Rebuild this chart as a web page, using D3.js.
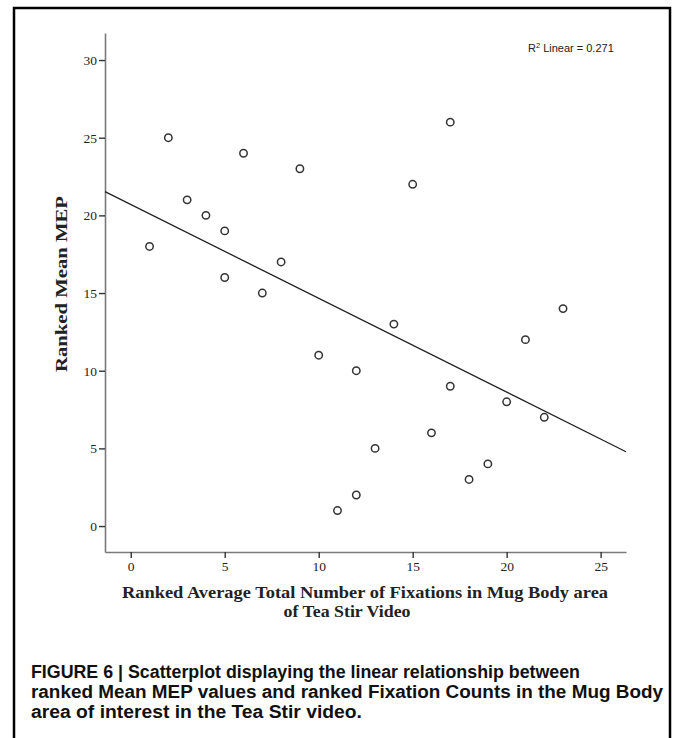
<!DOCTYPE html>
<html>
<head>
<meta charset="utf-8">
<script src="https://cdn.jsdelivr.net/npm/d3@7"></script>
<style>
  body { margin: 0; background: #fff; }
  svg { display: block; }
</style>
</head>
<body>
<svg id="chart" width="673" height="738"></svg>
<script>
// ranked fixation count (x) and ranked mean MEP (y)
const rankFix = [1, 2, 3, 4, 5, 5, 6, 7, 8, 9, 10, 11, 12, 12, 13, 14, 15, 16, 17, 17, 18, 19, 20, 21, 22, 23];
const rankMEP = [18, 25, 21, 20, 19, 16, 24, 15, 17, 23, 11, 1, 10, 2, 5, 13, 22, 6, 26, 9, 3, 4, 8, 12, 7, 14];
const xTicks = [0, 5, 10, 15, 20, 25];
const yTicks = [0, 5, 10, 15, 20, 25, 30];
const captionLines = [
  "FIGURE 6 | Scatterplot displaying the linear relationship between",
  "ranked Mean MEP values and ranked Fixation Counts in the Mug Body",
  "area of interest in the Tea Stir video."
];

const data = rankFix.map((x, i) => ({ x: x, y: rankMEP[i] }));

const svg = d3.select("#chart");

// outer frame (no bottom edge visible)
svg.append("path")
  .attr("d", "M14,738 V8 H670 V738")
  .attr("fill", "none")
  .attr("stroke", "#000")
  .attr("stroke-width", 2.5);

const xScale = d3.scaleLinear().domain([-1.37, 26.35]).range([105, 626]);
const yScale = d3.scaleLinear().domain([-1.67, 31.74]).range([552, 33]);

// axes
const xAxis = svg.append("g")
  .attr("transform", "translate(0,552)")
  .call(d3.axisBottom(xScale).tickValues(xTicks).tickSize(6).tickPadding(3).tickSizeOuter(0));
const yAxis = svg.append("g")
  .attr("transform", "translate(105,0)")
  .call(d3.axisLeft(yScale).tickValues(yTicks).tickSize(6).tickPadding(2).tickSizeOuter(0));

[xAxis, yAxis].forEach(ax => {
  ax.select(".domain").attr("stroke", "#7a7a7a").attr("stroke-width", 1.6);
  ax.selectAll(".tick line").attr("stroke", "#333").attr("stroke-width", 1.4);
  ax.selectAll(".tick text")
    .attr("font-family", "Liberation Serif, serif")
    .attr("font-size", 13.5)
    .attr("fill", "#222");
});

// least squares line
const mx = d3.mean(data, d => d.x), my = d3.mean(data, d => d.y);
const sxy = d3.sum(data, d => (d.x - mx) * (d.y - my));
const sxx = d3.sum(data, d => (d.x - mx) ** 2);
const syy = d3.sum(data, d => (d.y - my) ** 2);
const slope = sxy / sxx, icpt = my - slope * mx;
const r2 = (sxy * sxy) / (sxx * syy);
const [x0, x1] = xScale.domain();

svg.append("line")
  .attr("x1", xScale(x0)).attr("y1", yScale(icpt + slope * x0))
  .attr("x2", xScale(x1)).attr("y2", yScale(icpt + slope * x1))
  .attr("stroke", "#222")
  .attr("stroke-width", 1.3);

// points
svg.selectAll(".pt")
  .data(data)
  .enter()
  .append("circle")
  .attr("class", "pt")
  .attr("cx", d => xScale(d.x))
  .attr("cy", d => yScale(d.y))
  .attr("r", 3.7)
  .attr("fill", "#fff")
  .attr("stroke", "#333")
  .attr("stroke-width", 1.5);

// R² label
const rl = svg.append("text")
  .attr("x", 528).attr("y", 52)
  .attr("font-family", "Liberation Sans, Arial, sans-serif")
  .attr("font-size", 11)
  .attr("fill", "#222");
rl.append("tspan").text("R");
rl.append("tspan").attr("font-size", 7.5).attr("dy", -4).text("2");
rl.append("tspan").attr("dy", 4).attr("dx", 3).text("Linear = " + r2.toFixed(3));

// axis titles
svg.append("text")
  .attr("transform", "translate(67,284) rotate(-90)")
  .attr("text-anchor", "middle")
  .attr("font-family", "Liberation Serif, serif")
  .attr("font-weight", "bold")
  .attr("font-size", 16.5)
  .attr("fill", "#222")
  .attr("textLength", 176)
  .attr("lengthAdjust", "spacingAndGlyphs")
  .text("Ranked Mean MEP");

svg.append("text")
  .attr("x", 365).attr("y", 598)
  .attr("text-anchor", "middle")
  .attr("font-family", "Liberation Serif, serif")
  .attr("font-weight", "bold")
  .attr("font-size", 16)
  .attr("fill", "#222")
  .attr("textLength", 486)
  .attr("lengthAdjust", "spacingAndGlyphs")
  .text("Ranked Average Total Number of Fixations in Mug Body area");

svg.append("text")
  .attr("x", 347).attr("y", 617)
  .attr("text-anchor", "middle")
  .attr("font-family", "Liberation Serif, serif")
  .attr("font-weight", "bold")
  .attr("font-size", 16)
  .attr("fill", "#222")
  .attr("textLength", 127)
  .attr("lengthAdjust", "spacingAndGlyphs")
  .text("of Tea Stir Video");

// caption
const capWidths = [549, 632, 331];
svg.selectAll(".cap")
  .data(captionLines)
  .enter()
  .append("text")
  .attr("class", "cap")
  .attr("x", 31)
  .attr("y", (d, i) => 678 + i * 20)
  .attr("font-family", "Liberation Sans, Arial, sans-serif")
  .attr("font-weight", "bold")
  .attr("font-size", 17.5)
  .attr("fill", "#111")
  .attr("textLength", (d, i) => capWidths[i])
  .attr("lengthAdjust", "spacingAndGlyphs")
  .text(d => d);
</script>
</body>
</html>
